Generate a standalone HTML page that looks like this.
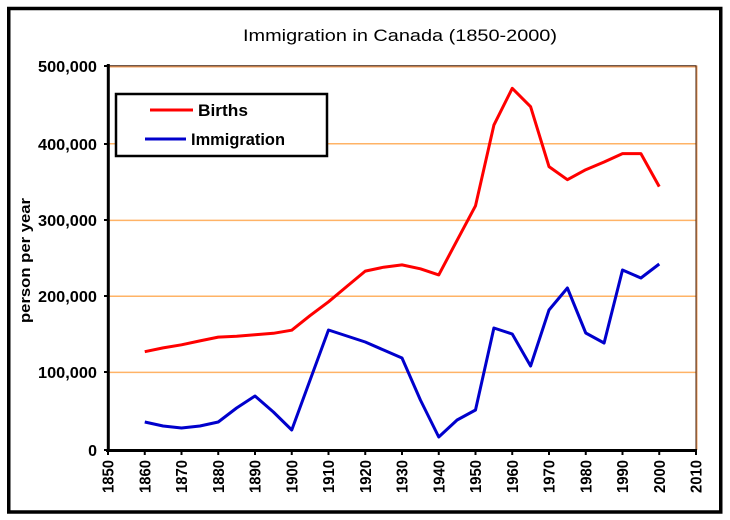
<!DOCTYPE html>
<html><head><meta charset="utf-8"><style>
html,body{margin:0;padding:0;background:#fff;}
svg{display:block;}
text{font-family:"Liberation Sans",Arial,sans-serif;fill:#000;}
</style></head><body>
<svg width="730" height="520" viewBox="0 0 730 520" xmlns="http://www.w3.org/2000/svg">
<rect x="0" y="0" width="730" height="520" fill="#fff"/>
<!-- outer frame -->
<rect x="8.75" y="8.5" width="712" height="503.5" fill="none" stroke="#000" stroke-width="3.5"/>
<!-- title -->
<text x="243" y="41" font-size="17" textLength="314" lengthAdjust="spacingAndGlyphs">Immigration in Canada (1850-2000)</text>
<!-- gridlines -->
<g stroke="#FFB366" stroke-width="1.5">
<line x1="108" y1="143.8" x2="696" y2="143.8"/>
<line x1="108" y1="220.4" x2="696" y2="220.4"/>
<line x1="108" y1="296.2" x2="696" y2="296.2"/>
<line x1="108" y1="372.4" x2="696" y2="372.4"/>
</g>
<!-- plot top/right border -->
<line x1="108" y1="66.5" x2="697" y2="66.5" stroke="#F0A060" stroke-width="2"/>
<line x1="108" y1="65.7" x2="696.5" y2="65.7" stroke="#402010" stroke-width="1"/>
<line x1="696.5" y1="65.5" x2="696.5" y2="450" stroke="#F0A060" stroke-width="2"/>
<line x1="696" y1="65.5" x2="696" y2="450" stroke="#402010" stroke-width="1"/>
<!-- axes -->
<line x1="108.3" y1="64" x2="108.3" y2="452" stroke="#000" stroke-width="3"/>
<line x1="106" y1="450.5" x2="697" y2="450.5" stroke="#000" stroke-width="3"/>
<!-- y ticks -->
<g stroke="#000" stroke-width="2">
<line x1="104" y1="66" x2="108" y2="66"/>
<line x1="104" y1="144" x2="108" y2="144"/>
<line x1="104" y1="220" x2="108" y2="220"/>
<line x1="104" y1="296" x2="108" y2="296"/>
<line x1="104" y1="372" x2="108" y2="372"/>
<line x1="104" y1="450" x2="108" y2="450"/>
</g>
<!-- x ticks -->
<g stroke="#000" stroke-width="2">
<line x1="108" y1="450" x2="108" y2="455"/>
<line x1="144.75" y1="450" x2="144.75" y2="455"/>
<line x1="181.5" y1="450" x2="181.5" y2="455"/>
<line x1="218.25" y1="450" x2="218.25" y2="455"/>
<line x1="255" y1="450" x2="255" y2="455"/>
<line x1="291.75" y1="450" x2="291.75" y2="455"/>
<line x1="328.5" y1="450" x2="328.5" y2="455"/>
<line x1="365.25" y1="450" x2="365.25" y2="455"/>
<line x1="402" y1="450" x2="402" y2="455"/>
<line x1="438.75" y1="450" x2="438.75" y2="455"/>
<line x1="475.5" y1="450" x2="475.5" y2="455"/>
<line x1="512.25" y1="450" x2="512.25" y2="455"/>
<line x1="549" y1="450" x2="549" y2="455"/>
<line x1="585.75" y1="450" x2="585.75" y2="455"/>
<line x1="622.5" y1="450" x2="622.5" y2="455"/>
<line x1="659.25" y1="450" x2="659.25" y2="455"/>
<line x1="696" y1="450" x2="696" y2="455"/>
</g>
<!-- y tick labels -->
<g font-size="16" font-weight="bold" text-anchor="end">
<text x="97" y="72" textLength="59" lengthAdjust="spacingAndGlyphs">500,000</text>
<text x="97" y="150" textLength="59" lengthAdjust="spacingAndGlyphs">400,000</text>
<text x="97" y="226" textLength="59" lengthAdjust="spacingAndGlyphs">300,000</text>
<text x="97" y="302" textLength="59" lengthAdjust="spacingAndGlyphs">200,000</text>
<text x="97" y="378" textLength="59" lengthAdjust="spacingAndGlyphs">100,000</text>
<text x="97" y="456">0</text>
</g>
<!-- y axis title -->
<text transform="translate(30,323) rotate(-90)" font-size="15" font-weight="bold" textLength="125" lengthAdjust="spacingAndGlyphs">person per year</text>
<!-- x tick labels -->
<g font-size="16" font-weight="bold">
<text transform="translate(113.5,493) rotate(-90)" textLength="33" lengthAdjust="spacingAndGlyphs">1850</text>
<text transform="translate(150.25,493) rotate(-90)" textLength="33" lengthAdjust="spacingAndGlyphs">1860</text>
<text transform="translate(187,493) rotate(-90)" textLength="33" lengthAdjust="spacingAndGlyphs">1870</text>
<text transform="translate(223.75,493) rotate(-90)" textLength="33" lengthAdjust="spacingAndGlyphs">1880</text>
<text transform="translate(260.5,493) rotate(-90)" textLength="33" lengthAdjust="spacingAndGlyphs">1890</text>
<text transform="translate(297.25,493) rotate(-90)" textLength="33" lengthAdjust="spacingAndGlyphs">1900</text>
<text transform="translate(334,493) rotate(-90)" textLength="33" lengthAdjust="spacingAndGlyphs">1910</text>
<text transform="translate(370.75,493) rotate(-90)" textLength="33" lengthAdjust="spacingAndGlyphs">1920</text>
<text transform="translate(407.5,493) rotate(-90)" textLength="33" lengthAdjust="spacingAndGlyphs">1930</text>
<text transform="translate(444.25,493) rotate(-90)" textLength="33" lengthAdjust="spacingAndGlyphs">1940</text>
<text transform="translate(481,493) rotate(-90)" textLength="33" lengthAdjust="spacingAndGlyphs">1950</text>
<text transform="translate(517.75,493) rotate(-90)" textLength="33" lengthAdjust="spacingAndGlyphs">1960</text>
<text transform="translate(554.5,493) rotate(-90)" textLength="33" lengthAdjust="spacingAndGlyphs">1970</text>
<text transform="translate(591.25,493) rotate(-90)" textLength="33" lengthAdjust="spacingAndGlyphs">1980</text>
<text transform="translate(628,493) rotate(-90)" textLength="33" lengthAdjust="spacingAndGlyphs">1990</text>
<text transform="translate(664.75,493) rotate(-90)" textLength="33" lengthAdjust="spacingAndGlyphs">2000</text>
<text transform="translate(701.5,493) rotate(-90)" textLength="33" lengthAdjust="spacingAndGlyphs">2010</text>
</g>
<!-- Births series -->
<polyline fill="none" stroke="#FF0000" stroke-width="3" stroke-linejoin="round" points="144.75,351.7 163.1,347.9 181.5,344.8 199.9,340.9 218.25,337.1 236.6,336.3 255,334.8 273.4,333.3 291.75,330.2 310.1,315.6 328.5,301.8 346.9,286.4 365.25,271.1 383.6,267.2 402,264.9 420.4,268.8 438.75,274.9 457.1,240.3 475.5,205.8 493.9,125.1 512.25,88.3 530.6,106.7 549,166.6 567.4,179.7 585.75,169.7 604.1,162 622.5,153.6 640.9,153.6 659.25,186.6"/>
<!-- Immigration series -->
<polyline fill="none" stroke="#0000CC" stroke-width="3" stroke-linejoin="round" points="144.75,422 163.1,426 181.5,428 199.9,426 218.25,422 236.6,408 255,396 273.4,412 291.75,430 310.1,380 328.5,330 346.9,336 365.25,342 383.6,350 402,358 420.4,400 438.75,437 457.1,420 475.5,410 493.9,328 512.25,334 530.6,366 549,310 567.4,288 585.75,333 604.1,343 622.5,270 640.9,278 659.25,264"/>
<!-- legend -->
<rect x="116" y="94" width="211" height="62" fill="#fff" stroke="#000" stroke-width="2.5"/>
<line x1="150" y1="110" x2="193" y2="110" stroke="#FF0000" stroke-width="3"/>
<line x1="145" y1="139" x2="186" y2="139" stroke="#0000CC" stroke-width="3"/>
<text x="198" y="116" font-size="17" font-weight="bold" textLength="50" lengthAdjust="spacingAndGlyphs">Births</text>
<text x="191" y="145" font-size="17" font-weight="bold" textLength="94" lengthAdjust="spacingAndGlyphs">Immigration</text>
</svg>
</body></html>
